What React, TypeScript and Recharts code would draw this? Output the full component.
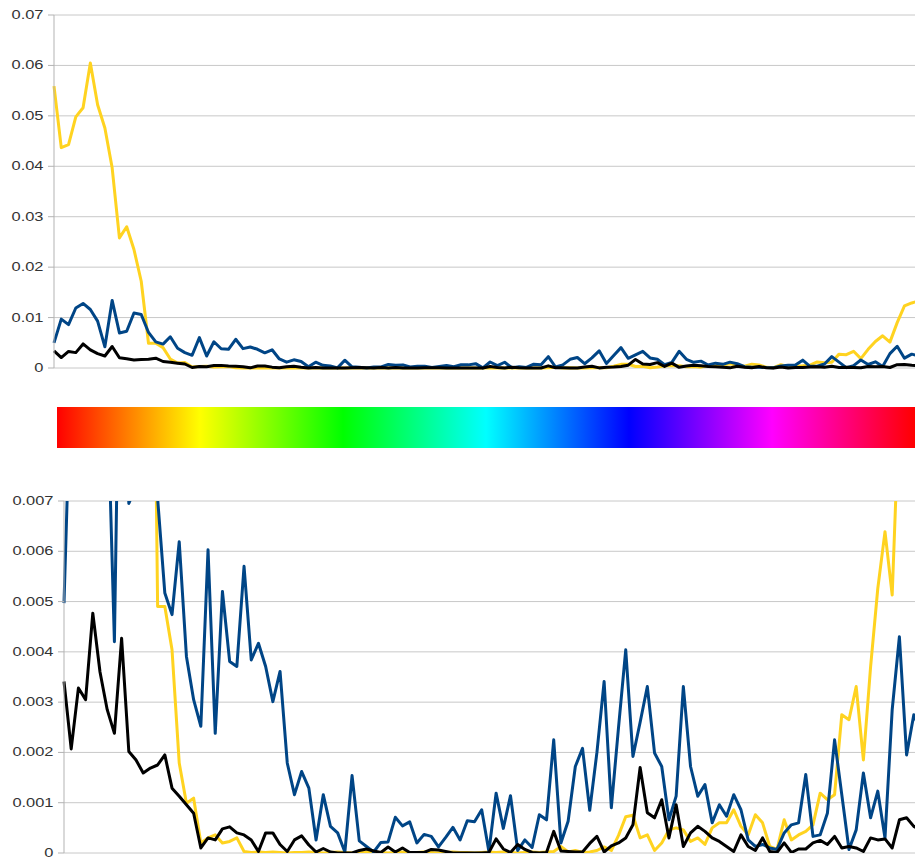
import { LineChart, Line, XAxis, YAxis, CartesianGrid } from 'recharts'

// values are in thousandths (1 = 0.001)
const blue = [
  4.97, 9.7, 8.6, 11.9, 12.8, 11.6, 9.3, 4.2, 13.4, 6.95,
  7.3, 10.9, 10.6, 7.05, 5.17, 4.74, 6.19, 3.91, 3.05, 2.52,
  6.03, 2.38, 5.2, 3.81, 3.71, 5.7, 3.84, 4.17, 3.71, 3.01,
  3.61, 1.79, 1.16, 1.62, 1.29, 0.26, 1.16, 0.53, 0.4, 0.02,
  1.54, 0.24, 0.13, 0.02, 0.21, 0.22, 0.71, 0.54, 0.62, 0.2,
  0.37, 0.33, 0.12, 0.31, 0.51, 0.26, 0.64, 0.62, 0.86, 0.03,
  1.19, 0.49, 1.14, 0.05, 0.26, 0.11, 0.76, 0.66, 2.25, 0.2,
  0.63, 1.72, 2.08, 0.85, 2.0, 3.41, 0.9, 2.5, 4.04, 1.92,
  2.6, 3.31, 1.99, 1.72, 0.66, 1.13, 3.31, 1.72, 1.13, 1.36,
  0.6, 0.96, 0.73, 1.16, 0.86, 0.26, 0.13, 0.17, 0.1, 0.07,
  0.4, 0.56, 0.6, 1.56, 0.33, 0.36, 0.79, 2.25, 1.16, 0.07,
  0.46, 1.59, 0.7, 1.23, 0.3, 2.85, 4.3, 1.95, 2.75, 2.4,
]

const black = [
  3.41, 2.07, 3.28, 3.05, 4.77, 3.6, 2.85, 2.38, 4.27, 2.02,
  1.85, 1.59, 1.69, 1.75, 1.95, 1.29, 1.13, 0.96, 0.79, 0.1,
  0.3, 0.26, 0.48, 0.52, 0.4, 0.36, 0.26, 0.03, 0.4, 0.4,
  0.17, 0.03, 0.26, 0.34, 0.16, 0.02, 0.09, 0.02, 0, 0,
  0, 0.05, 0.08, 0.04, 0.01, 0.12, 0.02, 0.1, 0.01, 0.01,
  0.01, 0.07, 0.06, 0.03, 0, 0, 0, 0, 0, 0.01,
  0.28, 0.08, 0.01, 0.17, 0.07, 0.01, 0, 0.01, 0.43, 0.04,
  0.03, 0.02, 0.02, 0.19, 0.33, 0.02, 0.14, 0.2, 0.3, 0.56,
  1.7, 0.8, 0.7, 1.06, 0.3, 0.96, 0.13, 0.4, 0.53, 0.43,
  0.3, 0.23, 0.13, 0.03, 0.36, 0.13, 0.05, 0.3, 0.03, 0.01,
  0.2, 0.01, 0.08, 0.08, 0.2, 0.25, 0.17, 0.33, 0.1, 0.13,
  0.1, 0.03, 0.3, 0.26, 0.28, 0.1, 0.66, 0.7, 0.53, 0.45,
]

const yellow = [
  55.9, 43.7, 44.3, 49.8, 51.6, 60.5, 52.2, 47.6, 39.7, 25.8,
  28.0, 23.5, 17.2, 4.9, 4.9, 4.04, 1.79, 0.99, 1.09, 0.2,
  0.3, 0.36, 0.2, 0.23, 0.3, 0.03, 0.01, 0.02, 0.01, 0.02,
  0.01, 0, 0.01, 0.01, 0.02, 0.01, 0, 0.01, 0.02, 0.01,
  0, 0.01, 0.02, 0.02, 0.01, 0, 0.01, 0.02, 0.01, 0.01,
  0.02, 0.01, 0, 0.01, 0.02, 0.01, 0.01, 0, 0.01, 0.02,
  0.01, 0.02, 0.01, 0, 0.01, 0.02, 0.01, 0.02, 0.03, 0.13,
  0.02, 0.05, 0.01, 0.02, 0.05, 0.12, 0.05, 0.35, 0.72, 0.75,
  0.3, 0.36, 0.05, 0.2, 0.46, 0.5, 0.46, 0.23, 0.3, 0.17,
  0.5, 0.6, 0.6, 0.86, 0.53, 0.36, 0.76, 0.6, 0.13, 0.07,
  0.66, 0.26, 0.36, 0.43, 0.56, 1.19, 1.06, 1.16, 2.75, 2.65,
  3.31, 1.85, 3.7, 5.26, 6.39, 5.13, 9.0, 12.3, 12.9, 13.3,
]

const samples = blue.map((_, i) => i + 1)

const topTicks = [0, 10, 20, 30, 40, 50, 60, 70]
const bottomTicks = [0, 1, 2, 3, 4, 5, 6, 7]

const data = samples.map((n, i) => ({
  n,
  blue: blue[i],
  black: black[i],
  yellow: yellow[i],
}))

const fmt = (v: number) => String(v / 1000)

function StretchTick({ y, payload, right }: any) {
  return (
    <text
      transform={`translate(${right},${y + 4}) scale(1.37,1)`}
      textAnchor="end"
      fontFamily="'Liberation Sans', Arial, sans-serif"
      fontSize={12}
      fill="#333"
    >
      {fmt(payload.value)}
    </text>
  )
}

function Series() {
  return null
}

export default function App() {
  const lines = [
    <Line key="y" type="linear" dataKey="yellow" stroke="#ffd320" strokeWidth={3} dot={false} strokeLinejoin="round" isAnimationActive={false} />,
    <Line key="b" type="linear" dataKey="blue" stroke="#004586" strokeWidth={3} dot={false} strokeLinejoin="round" isAnimationActive={false} />,
    <Line key="k" type="linear" dataKey="black" stroke="#000000" strokeWidth={3} dot={false} strokeLinejoin="round" isAnimationActive={false} />,
  ]
  return (
    <div style={{ position: 'fixed', left: 0, top: 0, width: 915, height: 860, overflow: 'hidden', background: '#fff' }}>
      <div style={{ position: 'absolute', left: 0, top: 0 }}>
        <LineChart width={929} height={380} data={data} margin={{ top: 15, right: 10, bottom: 12, left: 0 }}>
          <CartesianGrid vertical={false} stroke="#c8c8c8" />
          <XAxis dataKey="n" hide />
          <YAxis
            width={54}
            type="number"
            domain={[0, 70]}
            ticks={topTicks}
            interval={0}
            axisLine={{ stroke: '#b3b3b3' }}
            tickLine={{ stroke: '#b3b3b3' }}
            tickSize={6}
            tick={(p: any) => <StretchTick {...p} right={43.5} />}
          />
          {lines}
        </LineChart>
      </div>

      <div
        style={{
          position: 'absolute',
          left: 57,
          top: 407,
          width: 858,
          height: 41,
          background: 'linear-gradient(to right, #ff0000 0%, #ffff00 16.67%, #00ff00 33.33%, #00ffff 50%, #0000ff 66.67%, #ff00ff 83.33%, #ff0000 100%)',
        }}
      />

      <div style={{ position: 'absolute', left: 0, top: 480 }}>
        <LineChart width={931} height={385} data={data} margin={{ top: 21, right: 10, bottom: 12, left: 0 }}>
          <CartesianGrid vertical={false} stroke="#c8c8c8" />
          <XAxis dataKey="n" hide />
          <YAxis
            width={64}
            type="number"
            domain={[0, 7]}
            ticks={bottomTicks}
            interval={0}
            allowDataOverflow
            axisLine={{ stroke: '#b3b3b3' }}
            tickLine={{ stroke: '#b3b3b3' }}
            tickSize={6}
            tick={(p: any) => <StretchTick {...p} right={53.5} />}
          />
          {lines}
        </LineChart>
      </div>
      <Series />
    </div>
  )
}
